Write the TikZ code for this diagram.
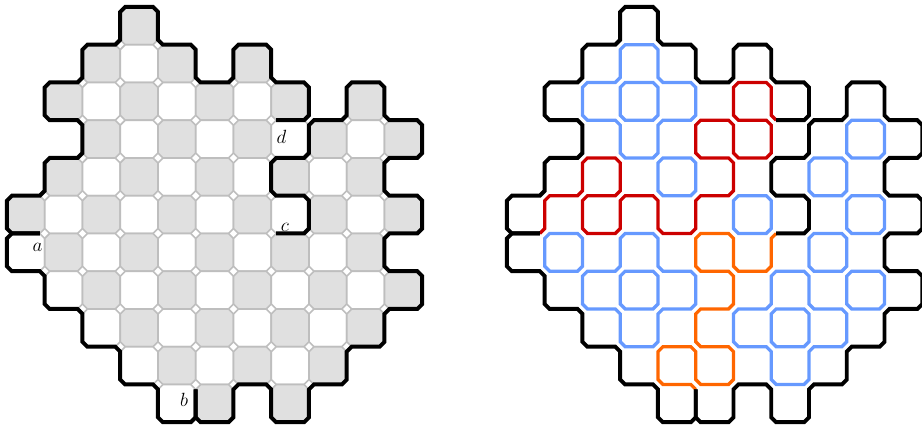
\documentclass[tikz,border=0pt]{standalone}
\usepackage{tikz}
\usetikzlibrary{calc}

\definecolor{cellgray}{RGB}{224,224,224}
\definecolor{edgegray}{RGB}{190,190,190}
\definecolor{loopblue}{RGB}{102,153,255}
\definecolor{arcred}{RGB}{204,0,0}
\definecolor{arcorange}{RGB}{255,102,0}

\def\cf{0.13}
% one cell of the grid, corners cut
\newcommand\octo[3][]{\draw[#1] (#2,#3) ++(0.13,0) -- ++(0.74,0) -- ++(0.13,0.13) -- ++(0,0.74) -- ++(-0.13,0.13) -- ++(-0.74,0) -- ++(-0.13,-0.13) -- ++(0,-0.74) -- cycle;}
% loop round the four cells that touch cell (#2,#3)
\newcommand\plusring[3][]{\draw[#1] (#2,#3) ++(0.13,-1) -- ++(0.74,0) -- ++(0.13,0.13) -- ++(0,0.74) -- ++(0.13,0.13) -- ++(0.74,0) -- ++(0.13,0.13) -- ++(0,0.74) -- ++(-0.13,0.13) -- ++(-0.74,0) -- ++(-0.13,0.13) -- ++(0,0.74) -- ++(-0.13,0.13) -- ++(-0.74,0) -- ++(-0.13,-0.13) -- ++(0,-0.74) -- ++(-0.13,-0.13) -- ++(-0.74,0) -- ++(-0.13,-0.13) -- ++(0,-0.74) -- ++(0.13,-0.13) -- ++(0.74,0) -- ++(0.13,-0.13) -- ++(0,-0.74) -- cycle;}
% path along grid edges, turning at every vertex
\newcommand\trail[5][]{\draw[#1] #2 \foreach \x/\y [remember=\x as \px (initially #3), remember=\y as \py (initially #4)] in {#5} {-- ($(\px,\py)!\cf!(\x,\y)$) -- ($(\x,\y)!\cf!(\px,\py)$)}}
% boundary arcs d-a, a-b, b-c
\newcommand\rimarcs{%
  \trail[rim]{($(7,3)!\cf!(8,3)$)}{7}{3}{8/3,8/2,7/2,7/1,6/1,6/2,5/2,5/1,4/1,4/0,3/0,3/1,2/1,2/2,1/2,1/3,2/3,2/4,1/4,1/5,0/5,0/6,1/6};
  \trail[rim]{($(1,6)!\cf!(0,6)$)}{1}{6}{0/6,0/7,1/7,1/8,2/8,2/9,3/9,3/10,4/10,4/11,5/11,5/10};
  \trail[rim]{($(5,10)!\cf!(5,11)$)}{5}{10}{5/11,6/11,6/10,7/10,7/11,8/11,8/10,9/10,9/9,10/9,10/8,11/8,11/7,10/7,10/6,11/6,11/5,10/5,10/4,11/4,11/3,10/3,10/2,9/2,9/3,8/3,8/4,7/4,7/5,8/5,8/6,7/6};
}

\tikzset{
  cell/.style={draw=edgegray, line width=1.2pt},
  rim/.style={draw=black, line width=3pt},
  ring/.style={draw=loopblue, line width=2.5pt},
  redarc/.style={draw=arcred, line width=2.5pt},
  orangearc/.style={draw=arcorange, line width=2.5pt},
  pointlabel/.style={font=\fontsize{14}{16}\selectfont, inner sep=0pt}
}

\begin{document}
\begin{tikzpicture}[x=1cm,y=-1cm]
\useasboundingbox (0,0) rectangle (24.424,11.338);

% left: the domain, cells in two shades
\begin{scope}[shift={(0.185,0.185)}]
  \foreach \j/\cols in {0/{3},1/{2,3,4,6},2/{1,...,7,9},3/{2,...,10},4/{1,...,9},5/{0,...,10},6/{0,...,9},7/{1,...,10},8/{2,...,9},9/{3,...,8},10/{4,5,7}}
    \foreach \i in \cols {
      \pgfmathtruncatemacro\kk{mod(\i+\j,2)}
      \ifnum\kk=1 \def\cellfill{cellgray}\else\def\cellfill{white}\fi
      \octo[cell,fill=\cellfill]{\i}{\j}
    }
  \rimarcs
  \node[pointlabel] (a) at (0.81,6.36) {$a$};
  \node[pointlabel] (b) at (4.69,10.41) {$b$};
  \node[pointlabel] (c) at (7.36,5.83) {$c$};
  \node[pointlabel] (d) at (7.27,3.43) {$d$};
\end{scope}

% right: the loops
\begin{scope}[shift={(13.43,0.185)}]
  \plusring[ring]{3}{2}
  \plusring[ring]{3}{7}
  \plusring[ring]{7}{8}
  \foreach \i/\j in {3/2,4/4,1/6,3/7,9/3,8/4,6/5,9/5,7/8,8/6,9/7}
    {\octo[ring]{\i}{\j}}
  % from a to d
  \trail[redarc]{($(1,6)!\cf!(0,6)$)}{1}{6}{1/5,2/5,2/4,3/4,3/5,2/5,2/6,3/6,3/5,4/5,4/6,5/6,5/5,6/5,6/4,5/4,5/3,6/3,6/4,7/4,7/3,6/3,6/2,7/2,7/3} -- ($(7,3)!\cf!(8,3)$);
  % from b to c
  \trail[orangearc]{($(5,10)!\cf!(5,11)$)}{5}{10}{4/10,4/9,5/9,5/10,6/10,6/9,5/9,5/8,6/8,6/7,5/7,5/6,6/6,6/7,7/7,7/6} -- ($(7,6)!\cf!(8,6)$);
  \rimarcs
\end{scope}
\end{tikzpicture}
\end{document}
